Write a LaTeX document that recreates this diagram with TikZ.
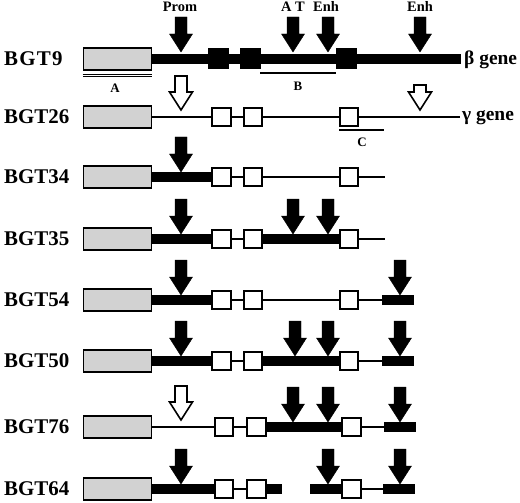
\documentclass[tikz,border=0pt]{standalone}
\usepackage{fontspec}
\setmainfont{Liberation Serif}
\usetikzlibrary{positioning,calc}

\tikzset{
  gbox/.style={draw, line width=1.6bp, fill=gray!35, minimum width=68bp, minimum height=21.5bp, inner sep=0pt},
  exon/.style={draw, line width=1.6bp, fill=white, minimum width=18.5bp, minimum height=18.5bp, inner sep=0pt},
  bexon/.style={fill=black, minimum width=21bp, minimum height=21bp, inner sep=0pt},
  fblk/.style={fill=black, minimum width=32bp, minimum height=9.5bp, inner sep=0pt},
  thk/.style={line width=9.5bp},
  thn/.style={line width=1.5bp},
  darr/.style={fill=black},
  oarr/.style={fill=white, draw=black, line width=1.6bp, line join=miter},
  rowlbl/.style={anchor=west, inner sep=0pt, font=\bfseries\fontsize{21}{24}\selectfont},
  sitelbl/.style={anchor=base, inner sep=0pt, font=\bfseries\fontsize{14.5}{17}\selectfont},
  reglbl/.style={inner sep=0pt, font=\bfseries\fontsize{13}{15}\selectfont},
  genelbl/.style={anchor=west, inner sep=0pt, font=\bfseries\fontsize{19.5}{22}\selectfont}
}
% site arrow: [length]{style}{x}{y of tip}
\newcommand{\siteArrow}[4][35]{%
  \begin{scope}[shift={(#3,#4)}]
    \filldraw[#2] (-6,-#1) -- (6,-#1) -- (6,-18) -- (11.5,-18) -- (0,0)
      -- (-11.5,-18) -- (-6,-18) -- cycle;
  \end{scope}}

\begin{document}
\begin{tikzpicture}[x=1bp, y=-1bp]
\useasboundingbox (0,0) rectangle (520,503);

% site labels
\node[sitelbl] (prom) at (180,12) {Prom};
\node[sitelbl] (atsite) at (293,12) {A T};
\node[sitelbl] (enh1) at (326,12) {Enh};
\node[sitelbl] (enh2) at (420,12) {Enh};

% BGT9
\node[rowlbl] (l9) at (4,59) {\addfontfeature{LetterSpace=6}BGT9};
\node[gbox] (p9) at (117.5,59) {};
\node[bexon] (a9) at (218.5,59) {};
\node[bexon] (b9) at (250.5,59) {};
\node[bexon] (c9) at (346.5,59) {};
\coordinate (t9) at (461,59);
\draw[thk] (p9) -- (a9) -- (b9) -- (c9) -- (t9);
\node[genelbl] (beta) at (464,60) {β gene};
\siteArrow{darr}{181}{52}
\siteArrow{darr}{293}{52}
\siteArrow{darr}{328}{52}
\siteArrow{darr}{420}{52}
\draw[line width=0.9bp, double distance=1.2bp] ([yshift=-5bp]p9.south west) -- ([yshift=-5bp]p9.south east);
\node[reglbl] (rA) at (115,88) {A};
\coordinate (b0) at (260,73);
\coordinate (b1) at (336,73);
\draw[thn] (b0) -- (b1);
\node[reglbl] (rB) at (298,86) {B};

% BGT26
\node[rowlbl] (l26) at (4,117) {BGT26};
\node[gbox] (p26) at (117.5,117) {};
\node[exon] (a26) at (221.5,117) {};
\node[exon] (b26) at (253,117) {};
\node[exon] (c26) at (349,117) {};
\coordinate (t26) at (460,117);
\draw[thn] (p26) -- (a26) -- (b26) -- (c26) -- (t26);
\node[genelbl] (gamma) at (462,118) {γ gene};
\siteArrow[34]{oarr}{181}{110}
\siteArrow[25]{oarr}{420}{110}
\coordinate (c0) at (339,130);
\coordinate (c1) at (384,130);
\draw[thn] (c0) -- (c1);
\node[reglbl] (rC) at (362,142) {C};

% BGT34
\node[rowlbl] (l34) at (4,177) {BGT34};
\node[gbox] (p34) at (117.5,177) {};
\node[exon] (a34) at (221.5,177) {};
\node[exon] (b34) at (253,177) {};
\node[exon] (c34) at (349,177) {};
\coordinate (t34) at (385,177);
\draw[thk] (p34) -- (a34);
\draw[thn] (a34) -- (b34) -- (c34) -- (t34);
\siteArrow{darr}{181}{172}

% BGT35
\node[rowlbl] (l35) at (4,239) {BGT35};
\node[gbox] (p35) at (117.5,239) {};
\node[exon] (a35) at (221.5,239) {};
\node[exon] (b35) at (253,239) {};
\node[exon] (c35) at (349,239) {};
\coordinate (t35) at (385,239);
\draw[thk] (p35) -- (a35);
\draw[thn] (a35) -- (b35);
\draw[thk] (b35) -- (c35);
\draw[thn] (c35) -- (t35);
\siteArrow{darr}{181}{234}
\siteArrow{darr}{293}{234}
\siteArrow{darr}{328}{234}

% BGT54
\node[rowlbl] (l54) at (4,300) {BGT54};
\node[gbox] (p54) at (117.5,300) {};
\node[exon] (a54) at (221.5,300) {};
\node[exon] (b54) at (253,300) {};
\node[exon] (c54) at (349,300) {};
\node[fblk] (f54) at (398,300) {};
\draw[thk] (p54) -- (a54);
\draw[thn] (a54) -- (b54) -- (c54) -- (f54);
\siteArrow{darr}{181}{295}
\siteArrow{darr}{400}{295}

% BGT50
\node[rowlbl] (l50) at (4,361) {BGT50};
\node[gbox] (p50) at (117.5,361) {};
\node[exon] (a50) at (221.5,361) {};
\node[exon] (b50) at (253,361) {};
\node[exon] (c50) at (349,361) {};
\node[fblk] (f50) at (398,361) {};
\draw[thk] (p50) -- (a50);
\draw[thn] (a50) -- (b50);
\draw[thk] (b50) -- (c50);
\draw[thn] (c50) -- (f50);
\siteArrow{darr}{181}{356}
\siteArrow{darr}{295}{356}
\siteArrow{darr}{328}{356}
\siteArrow{darr}{400}{356}

% BGT76
\node[rowlbl] (l76) at (4,427) {BGT76};
\node[gbox] (p76) at (117.5,427) {};
\node[exon] (a76) at (224,427) {};
\node[exon] (b76) at (256.5,427) {};
\node[exon] (c76) at (351.5,427) {};
\node[fblk] (f76) at (400,427) {};
\draw[thn] (p76) -- (a76) -- (b76);
\draw[thk] (b76) -- (c76);
\draw[thn] (c76) -- (f76);
\siteArrow[34]{oarr}{181}{420}
\siteArrow{darr}{293}{422}
\siteArrow{darr}{328}{422}
\siteArrow{darr}{400}{422}

% BGT64
\node[rowlbl] (l64) at (4,489) {BGT64};
\node[gbox] (p64) at (117.5,489) {};
\node[exon] (a64) at (224,489) {};
\node[exon] (b64) at (256.5,489) {};
\node[exon] (c64) at (351.5,489) {};
\node[fblk] (f64) at (399,489) {};
\coordinate (k64) at (282,489);
\coordinate (m64) at (310,489);
\draw[thk] (p64) -- (a64);
\draw[thn] (a64) -- (b64);
\draw[thk] (b64) -- (k64);
\draw[thk] (m64) -- (c64);
\draw[thn] (c64) -- (f64);
\siteArrow{darr}{181}{484}
\siteArrow{darr}{328}{484}
\siteArrow{darr}{400}{484}
\end{tikzpicture}
\end{document}
